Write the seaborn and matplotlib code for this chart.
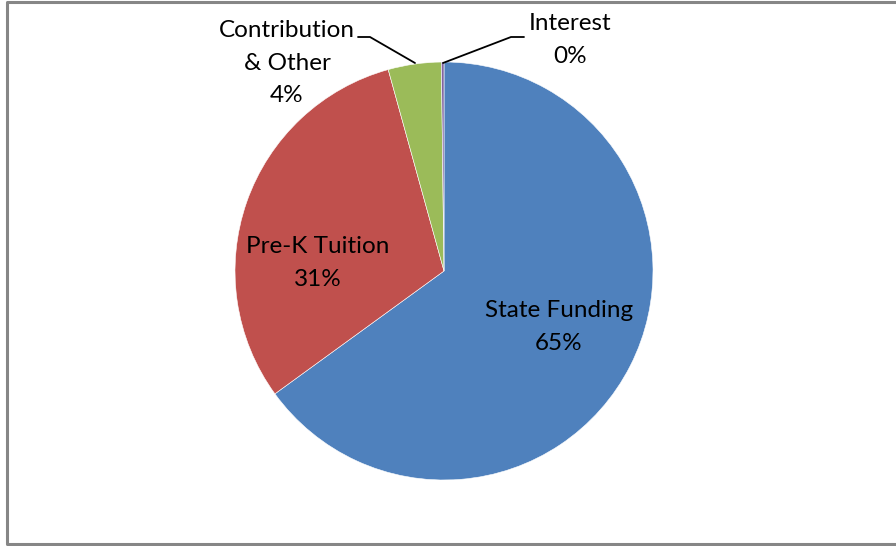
import matplotlib
matplotlib.use("Agg")
import matplotlib.pyplot as plt
import seaborn as sns

# Datos del gráfico
categorias = ["State Funding", "Pre-K Tuition", "Contribution\n& Other", "Interest"]
valores = [65.0, 30.7, 4.1, 0.2]
etiquetas_pct = ["65%", "31%", "4%", "0%"]
colores = ["#4F81BD", "#C0504D", "#9BBB59", "#8064A2"]

sns.set_style("white")
plt.rcParams["font.family"] = ["Lato", "DejaVu Sans"]

fig = plt.figure(figsize=(8.96, 5.46), dpi=100)
ax = fig.add_axes([0, 0, 1, 1])

# Pastel: empieza arriba y va en sentido horario
ax.pie(valores, colors=colores, startangle=90, counterclock=False,
       center=(444, 275), radius=209, frame=True,
       wedgeprops=dict(linewidth=0.4, edgecolor="white"))
ax.set_xlim(0, 896)
ax.set_ylim(0, 546)
ax.set_aspect("equal")
ax.axis("off")

# Etiquetas de datos
pos_etiquetas = [(559, 219), (318, 283), (287, 483), (570, 506)]
for cat, pct, (x, y) in zip(categorias, etiquetas_pct, pos_etiquetas):
    ax.text(x, y, cat + "\n" + pct, ha="center", va="center",
            fontsize=17.5, color="black", linespacing=1.65)

# Líneas guía
ax.plot([358, 370, 415], [546 - 37, 546 - 37, 546 - 63], color="black", lw=1.3)
ax.plot([524, 511, 443], [546 - 37, 546 - 37, 546 - 63], color="black", lw=1.3)

# Marco gris (izquierda, arriba, abajo)
ax.plot([896, 6.5, 6.5, 896], [546 - 1.5, 546 - 1.5, 2, 2],
        color="#868686", lw=2.2, clip_on=False)

fig.savefig("out.png", dpi=100)
